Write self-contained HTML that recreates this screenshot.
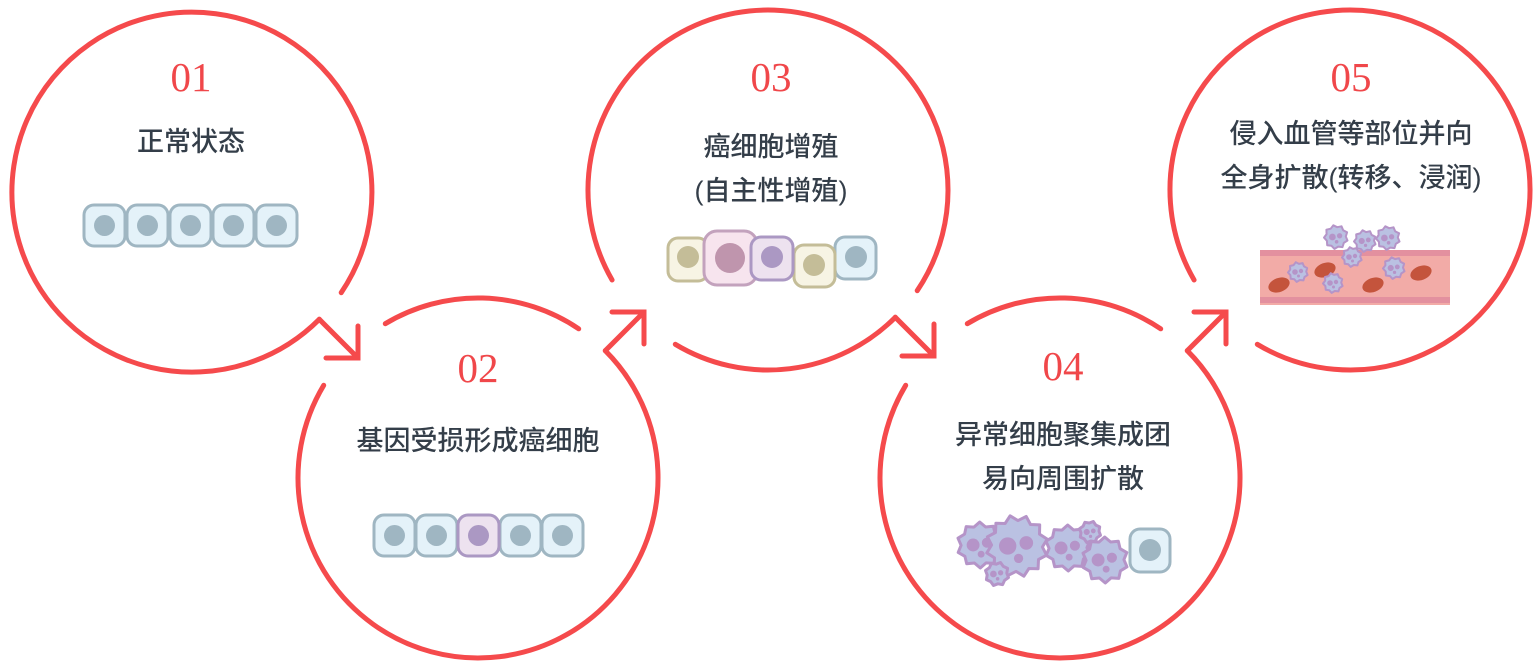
<!DOCTYPE html>
<html><head><meta charset="utf-8"><style>
html,body{margin:0;padding:0;background:#fff;width:1540px;height:670px;overflow:hidden}
svg{display:block}
.n{font-family:"Liberation Serif",serif;font-size:41px;fill:#f0474a;text-anchor:middle}
.t{font-family:"Liberation Sans","Noto Sans CJK SC",sans-serif;font-size:27px;fill:#343e49;text-anchor:middle;font-weight:500}
.c{fill:none;stroke:#f54a4c;stroke-width:5;stroke-linecap:round}
</style></head><body>
<svg width="1540" height="670" viewBox="0 0 1540 670" xmlns="http://www.w3.org/2000/svg">
<path class="c" d="M319.3,319.3 A180,180 0 1 1 341.2,292.7"/>
<path class="c" d="M319.3,319.3 L358,358 M326,358 L358,358 L358,326" stroke-linecap="butt"/>
<path class="c" d="M385.3,323.7 A180,180 0 0 1 578.7,328.8"/>
<path class="c" d="M605.3,350.7 A180,180 0 1 1 323.7,385.3"/>
<path class="c" d="M605.3,350.7 L644,312 M612,312 L644,312 L644,344" stroke-linecap="butt"/>
<path class="c" d="M612.1,280 A180,180 0 1 1 917.2,290.7"/>
<path class="c" d="M895.3,317.3 A180,180 0 0 1 675.3,344.3"/>
<path class="c" d="M895.3,317.3 L934,356 M902,356 L934,356 L934,324" stroke-linecap="butt"/>
<path class="c" d="M967.3,323.7 A180,180 0 0 1 1160.7,328.8"/>
<path class="c" d="M1187.3,350.7 A180,180 0 1 1 905.7,385.3"/>
<path class="c" d="M1187.3,350.7 L1226,312 M1194,312 L1226,312 L1226,344" stroke-linecap="butt"/>
<path class="c" d="M1194.1,280 A180,180 0 1 1 1257.3,344.3"/>

<text class="n" x="191" y="91">01</text>
<text class="t" x="191" y="151">正常状态</text>
<text class="n" x="478" y="382">02</text>
<text class="t" x="478" y="450">基因受损形成癌细胞</text>
<text class="n" x="771" y="91">03</text>
<text class="t" x="771" y="156">癌细胞增殖</text>
<text class="t" x="771" y="200">(自主性增殖)</text>
<text class="n" x="1063" y="380">04</text>
<text class="t" x="1063" y="444">异常细胞聚集成团</text>
<text class="t" x="1063" y="488">易向周围扩散</text>
<text class="n" x="1351" y="91">05</text>
<text class="t" x="1351" y="143">侵入血管等部位并向</text>
<text class="t" x="1351" y="187">全身扩散(转移、浸润)</text>

<g stroke="#9fb6c2" stroke-width="3" fill="#e4f2f9">
<rect x="84" y="205" width="41" height="41" rx="10"/>
<rect x="127" y="205" width="41" height="41" rx="10"/>
<rect x="170" y="205" width="41" height="41" rx="10"/>
<rect x="213" y="205" width="41" height="41" rx="10"/>
<rect x="256" y="205" width="41" height="41" rx="10"/>
</g>
<g fill="#9fb6c2"><circle cx="104.5" cy="225.5" r="10.5"/><circle cx="147.5" cy="225.5" r="10.5"/><circle cx="190.5" cy="225.5" r="10.5"/><circle cx="233.5" cy="225.5" r="10.5"/><circle cx="276.5" cy="225.5" r="10.5"/></g>

<g stroke="#9fb6c2" stroke-width="3" fill="#e4f2f9">
<rect x="374" y="515" width="41" height="41" rx="10"/>
<rect x="416" y="515" width="41" height="41" rx="10"/>
<rect x="500" y="515" width="41" height="41" rx="10"/>
<rect x="542" y="515" width="41" height="41" rx="10"/>
</g>
<rect x="458" y="515" width="41" height="41" rx="10" fill="#ede2ef" stroke="#ab98c3" stroke-width="3"/>
<g fill="#9fb6c2"><circle cx="394.5" cy="535.5" r="10.5"/><circle cx="436.5" cy="535.5" r="10.5"/><circle cx="520.5" cy="535.5" r="10.5"/><circle cx="562.5" cy="535.5" r="10.5"/></g>
<circle cx="478.5" cy="535.5" r="10.5" fill="#ab98c3"/>

<rect x="668" y="238" width="40" height="43" rx="10" fill="#f7f4e4" stroke="#c4bd98" stroke-width="3"/>
<circle cx="688" cy="257" r="11" fill="#c4bd98"/>
<rect x="835" y="237" width="41" height="42" rx="10" fill="#e4f2f9" stroke="#9fb6c2" stroke-width="3"/>
<circle cx="856" cy="257" r="11" fill="#9fb6c2"/>
<rect x="794" y="245" width="41" height="42" rx="10" fill="#f7f4e4" stroke="#c4bd98" stroke-width="3"/>
<circle cx="814" cy="265" r="11" fill="#c4bd98"/>
<rect x="704" y="231" width="53" height="54" rx="13" fill="#f7e4ee" stroke="#c3a2bd" stroke-width="3"/>
<circle cx="730" cy="258" r="15" fill="#bf95ad"/>
<rect x="751" y="237" width="42" height="43" rx="10" fill="#ede2ef" stroke="#ab98c3" stroke-width="3"/>
<circle cx="772" cy="257" r="11" fill="#ab98c3"/>

<g id="blobs4" fill="#bac1e2" stroke="#b594c8" stroke-width="3"></g>
<rect x="1130" y="529" width="40" height="43" rx="10" fill="#e4f2f9" stroke="#9fb6c2" stroke-width="3"/>
<circle cx="1150" cy="550" r="11" fill="#9fb6c2"/>

<rect x="1260" y="250" width="190" height="55" fill="#f2aba7"/>
<rect x="1260" y="250" width="190" height="6" fill="#e3909f"/>
<rect x="1260" y="297" width="190" height="6" fill="#e3909f"/>
<g fill="#c4543c">
<ellipse cx="1279" cy="285" rx="11" ry="7" transform="rotate(-20 1279 285)"/>
<ellipse cx="1325" cy="270" rx="11" ry="7" transform="rotate(-20 1325 270)"/>
<ellipse cx="1373" cy="285" rx="11" ry="7" transform="rotate(-20 1373 285)"/>
<ellipse cx="1421" cy="273" rx="11" ry="7" transform="rotate(-20 1421 273)"/>
</g>
<g id="blobs5" fill="#bac1e2" stroke="#b594c8" stroke-width="2"></g>
</svg>
<script>
(function(){
var ns="http://www.w3.org/2000/svg";
function blob(g,cx,cy,r,n,nuc){
  var pts=[];var k=n*2;
  for(var i=0;i<k;i++){var a=i/k*Math.PI*2+0.3;var rr=(i%2?r*0.82:r);pts.push((cx+rr*Math.cos(a)).toFixed(1)+","+(cy+rr*Math.sin(a)).toFixed(1));}
  var p=document.createElementNS(ns,"polygon");p.setAttribute("points",pts.join(" "));p.setAttribute("stroke-linejoin","round");g.appendChild(p);
  nuc.forEach(function(q){var c=document.createElementNS(ns,"circle");c.setAttribute("cx",cx+q[0]*r);c.setAttribute("cy",cy+q[1]*r);c.setAttribute("r",q[2]*r);c.setAttribute("fill","#b594c8");c.setAttribute("stroke","none");g.appendChild(c);});
}
var N=[[-0.3,0,0.28],[0.3,-0.1,0.22],[0.05,0.4,0.15]];
var g4=document.getElementById("blobs4");
blob(g4,980,545,23,10,N);
blob(g4,1068,548,23,10,N);
blob(g4,1105,560,23,10,N);
blob(g4,1017,546,31,12,N);
blob(g4,1090,532,11,8,N);
blob(g4,997,574,12,8,N);
var g5=document.getElementById("blobs5");
[[1336,237,12],[1365,241,11],[1388,238,12],[1352,257,10],[1298,272,10],[1333,283,10],[1394,268,11]].forEach(function(b){blob(g5,b[0],b[1],b[2],9,N);});
})();
</script>
</body></html>
